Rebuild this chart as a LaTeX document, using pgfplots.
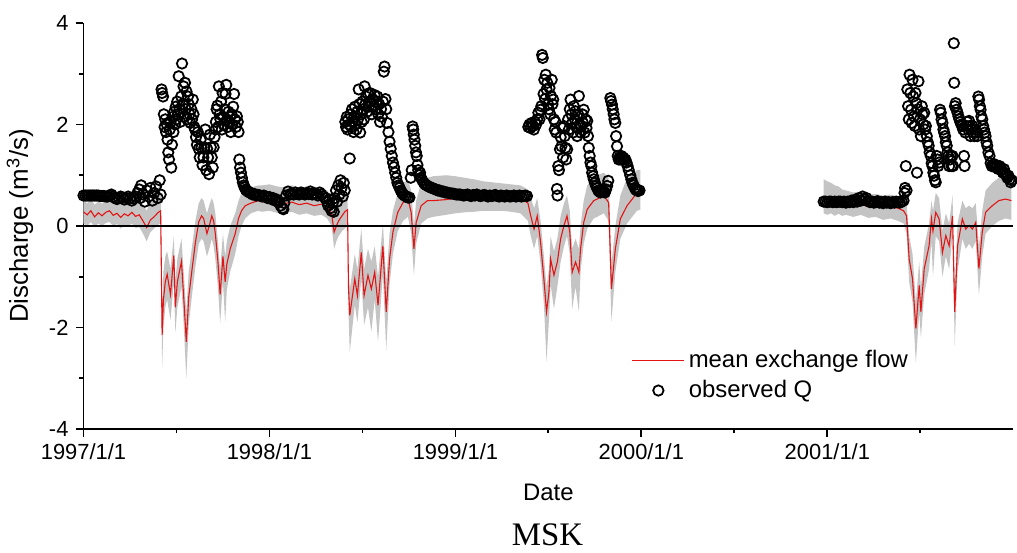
\documentclass[border=0pt]{standalone}
\usepackage{fontspec}
\setmainfont{Liberation Sans}
\newfontfamily\mskfont{Liberation Serif}
\usepackage{pgfplots}
\usepackage{pgfplotstable}
\usepgfplotslibrary{fillbetween}
\pgfplotsset{compat=1.18}
\definecolor{bandgray}{RGB}{196,196,196}
\definecolor{flowred}{RGB}{228,20,20}
\pgfplotsset{
  flowlegend/.style={legend image code/.code={\draw[##1] (0pt,0pt) -- (26pt,0pt);}},
  obslegend/.style={legend image code/.code={\draw[##1] plot coordinates {(13pt,0pt)};}},
}

% exchange flow 1997-1999: lower bound, mean, upper bound
\pgfplotstableread{
x lo mean hi
1997.000 0.05 0.28 0.50
1997.020 0.00 0.22 0.45
1997.040 0.08 0.30 0.52
1997.060 -0.02 0.18 0.42
1997.080 0.05 0.26 0.48
1997.100 0.00 0.20 0.44
1997.120 0.06 0.27 0.50
1997.140 0.08 0.30 0.52
1997.160 0.00 0.21 0.45
1997.180 0.04 0.25 0.48
1997.200 -0.05 0.17 0.42
1997.220 0.02 0.24 0.48
1997.240 -0.02 0.20 0.45
1997.260 0.05 0.27 0.52
1997.280 -0.04 0.19 0.45
1997.300 -0.02 0.22 0.50
1997.320 -0.15 0.10 0.42
1997.340 -0.30 -0.03 0.30
1997.360 -0.12 0.12 0.48
1997.380 -0.05 0.18 0.60
1997.400 0.02 0.26 0.75
1997.415 0.05 0.30 0.80
1997.423 -2.80 -2.15 -1.60
1997.430 -2.00 -1.45 -0.90
1997.440 -1.60 -1.10 -0.60
1997.450 -1.45 -0.95 -0.50
1997.468 -1.85 -1.35 -0.85
1997.486 -1.10 -0.58 -0.20
1997.494 -2.10 -1.60 -1.10
1997.505 -1.60 -1.10 -0.65
1997.513 -1.45 -0.95 -0.50
1997.527 -1.20 -0.70 -0.25
1997.539 -1.95 -1.40 -0.90
1997.553 -3.00 -2.28 -1.70
1997.566 -1.95 -1.40 -0.90
1997.584 -1.35 -0.85 -0.40
1997.602 -0.80 -0.32 0.10
1997.620 -0.35 0.08 0.45
1997.635 -0.25 0.20 0.55
1997.646 -0.30 0.15 0.50
1997.664 -0.60 -0.15 0.25
1997.680 -0.40 0.05 0.45
1997.690 -0.25 0.20 0.55
1997.700 -0.40 0.10 0.45
1997.709 -0.65 -0.15 0.25
1997.723 -1.20 -0.70 -0.30
1997.735 -1.92 -1.35 -0.85
1997.750 -1.10 -0.60 -0.15
1997.762 -1.89 -1.10 -0.60
1997.771 -1.25 -0.75 -0.30
1997.789 -0.90 -0.45 0.00
1997.816 -0.55 -0.15 0.25
1997.834 -0.20 0.15 0.50
1997.850 0.00 0.30 0.65
1997.870 0.15 0.40 0.72
1997.900 0.25 0.45 0.76
1997.940 0.30 0.50 0.80
1997.960 0.28 0.48 0.80
1998.000 0.30 0.50 0.82
1998.040 0.26 0.46 0.78
1998.080 0.25 0.44 0.76
1998.120 0.28 0.47 0.80
1998.160 0.22 0.42 0.75
1998.200 0.25 0.45 0.78
1998.240 0.20 0.40 0.74
1998.280 0.22 0.43 0.76
1998.310 0.15 0.38 0.70
1998.334 0.00 0.25 0.60
1998.348 -0.45 -0.12 0.25
1998.360 -0.30 0.00 0.35
1998.372 -0.20 0.10 0.45
1998.390 -0.10 0.20 0.55
1998.405 -0.05 0.28 0.62
1998.420 0.00 0.32 0.65
1998.425 -1.70 -1.20 -0.75
1998.432 -2.48 -1.76 -1.25
1998.459 -1.55 -1.04 -0.55
1998.473 -1.90 -1.37 -0.85
1998.494 -1.05 -0.52 -0.05
1998.509 -1.95 -1.37 -0.85
1998.530 -1.60 -0.97 -0.45
1998.548 -2.08 -1.24 -0.70
1998.566 -1.45 -0.91 -0.40
1998.584 -2.28 -1.56 -1.00
1998.610 -0.95 -0.39 0.05
1998.628 -2.45 -1.69 -1.10
1998.646 -1.15 -0.65 -0.15
1998.664 -0.55 -0.12 0.30
1998.690 -0.10 0.27 0.65
1998.718 0.10 0.46 0.85
1998.745 0.18 0.53 0.90
1998.762 -0.15 0.27 0.70
1998.777 -0.97 -0.45 0.00
1998.789 -0.35 0.07 0.50
1998.816 0.05 0.40 0.85
1998.850 0.15 0.50 0.95
1998.880 0.18 0.50 0.98
1998.950 0.22 0.52 1.00
1999.000 0.25 0.55 0.98
1999.050 0.27 0.56 0.95
1999.100 0.28 0.57 0.92
1999.150 0.30 0.57 0.88
1999.200 0.30 0.58 0.86
1999.250 0.30 0.58 0.84
1999.300 0.28 0.58 0.82
1999.350 0.25 0.56 0.80
1999.390 0.10 0.45 0.72
1999.405 -0.20 0.20 0.55
1999.423 -0.45 -0.06 0.35
1999.440 -0.20 0.20 0.55
1999.458 -0.75 -0.32 0.10
1999.476 -1.55 -1.05 -0.60
1999.490 -2.67 -1.69 -1.20
1999.503 -1.85 -1.30 -0.85
1999.512 -1.15 -0.65 -0.20
1999.530 -1.63 -0.97 -0.50
1999.548 -1.20 -0.71 -0.25
1999.566 -0.70 -0.25 0.20
1999.584 -0.40 0.01 0.45
1999.600 -0.20 0.20 0.60
1999.615 -0.55 -0.12 0.30
1999.628 -1.63 -0.91 -0.45
1999.646 -1.20 -0.71 -0.25
1999.664 -1.69 -0.91 -0.45
1999.673 -0.90 -0.45 0.00
1999.690 -0.35 0.07 0.50
1999.709 -0.05 0.33 0.80
1999.744 0.15 0.50 0.95
1999.762 0.18 0.53 1.00
1999.798 0.25 0.60 1.05
1999.824 0.10 0.46 0.95
1999.839 -1.89 -1.24 -0.75
1999.860 -0.90 -0.45 0.00
1999.887 -0.25 0.14 0.60
1999.923 0.05 0.40 0.95
1999.976 0.30 0.65 1.10
1999.995 0.32 0.66 1.10
}\bandA

% exchange flow 2001
\pgfplotstableread{
x lo mean hi
2000.980 0.25 0.45 0.92
2001.000 0.22 0.44 0.88
2001.020 0.25 0.45 0.85
2001.040 0.20 0.42 0.80
2001.060 0.24 0.46 0.78
2001.080 0.20 0.43 0.72
2001.100 0.22 0.42 0.70
2001.140 0.18 0.40 0.66
2001.180 0.22 0.43 0.68
2001.220 0.16 0.38 0.62
2001.260 0.18 0.40 0.63
2001.300 0.12 0.36 0.60
2001.340 0.15 0.38 0.62
2001.380 0.10 0.35 0.58
2001.410 0.05 0.30 0.55
2001.426 -0.15 0.20 0.45
2001.440 -1.10 -0.65 -0.20
2001.458 -1.50 -1.04 -0.55
2001.476 -2.70 -2.02 -1.50
2001.494 -1.70 -1.17 -0.70
2001.503 -2.20 -1.69 -1.20
2001.521 -1.35 -0.84 -0.40
2001.547 -0.85 -0.39 0.05
2001.560 -0.30 0.14 0.50
2001.568 -1.00 -0.10 0.30
2001.583 -0.20 0.27 0.65
2001.601 -0.30 0.14 0.55
2001.619 -1.00 -0.52 -0.10
2001.637 -0.60 -0.19 0.25
2001.655 -0.85 -0.39 0.05
2001.673 -0.20 0.20 0.60
2001.685 -2.35 -1.69 -1.20
2001.700 -0.90 -0.39 0.05
2001.726 -0.25 0.14 0.50
2001.744 -0.45 -0.06 0.35
2001.762 -0.35 0.01 0.40
2001.780 -0.45 -0.06 0.35
2001.798 -0.30 0.07 0.45
2001.815 -1.36 -0.84 -0.40
2001.833 -0.60 -0.12 0.30
2001.851 -0.15 0.27 0.70
2001.887 0.00 0.40 0.85
2001.922 0.10 0.50 0.95
2001.958 0.15 0.53 1.00
2001.990 0.12 0.50 1.00
}\bandB

% observed discharge
\pgfplotstableread{
x q
1997.00 0.60
1997.01 0.60
1997.02 0.60
1997.03 0.60
1997.04 0.60
1997.05 0.60
1997.06 0.60
1997.07 0.60
1997.08 0.60
1997.09 0.59
1997.10 0.59
1997.11 0.59
1997.12 0.58
1997.13 0.58
1997.14 0.60
1997.15 0.62
1997.16 0.58
1997.17 0.55
1997.18 0.53
1997.19 0.55
1997.20 0.58
1997.21 0.56
1997.22 0.52
1997.23 0.55
1997.24 0.58
1997.25 0.55
1997.26 0.50
1997.27 0.54
1997.28 0.58
1997.29 0.65
1997.30 0.72
1997.305 0.55
1997.31 0.80
1997.32 0.62
1997.33 0.48
1997.34 0.70
1997.35 0.58
1997.36 0.75
1997.37 0.50
1997.38 0.65
1997.39 0.78
1997.40 0.55
1997.41 0.90
1997.415 0.62
1997.420 2.69
1997.423 2.62
1997.428 2.55
1997.432 2.20
1997.436 1.95
1997.440 2.10
1997.444 1.85
1997.448 2.00
1997.452 1.70
1997.456 1.45
1997.460 1.31
1997.464 1.90
1997.468 2.05
1997.472 1.15
1997.476 1.60
1997.480 2.15
1997.484 1.85
1997.488 2.25
1997.492 2.00
1997.496 2.35
1997.500 2.10
1997.504 2.45
1997.508 2.20
1997.512 2.95
1997.516 2.30
1997.520 2.05
1997.525 2.55
1997.530 3.20
1997.534 2.40
1997.538 2.75
1997.542 2.15
1997.546 2.82
1997.550 2.30
1997.554 2.65
1997.558 2.10
1997.562 2.55
1997.566 2.40
1997.570 2.20
1997.575 2.03
1997.580 2.30
1997.584 2.10
1997.588 2.49
1997.592 2.20
1997.596 1.95
1997.600 1.90
1997.605 1.75
1997.610 1.60
1997.615 1.85
1997.620 1.52
1997.625 1.35
1997.630 1.70
1997.635 1.55
1997.640 1.20
1997.645 1.35
1997.650 1.55
1997.655 1.90
1997.660 1.10
1997.665 1.52
1997.670 1.35
1997.675 1.02
1997.680 1.80
1997.685 1.55
1997.690 1.35
1997.695 1.15
1997.700 1.55
1997.705 1.75
1997.710 1.90
1997.712 2.05
1997.716 2.30
1997.720 2.37
1997.724 1.95
1997.728 2.75
1997.732 2.20
1997.736 2.10
1997.740 2.45
1997.744 1.90
1997.748 2.62
1997.752 2.15
1997.756 2.00
1997.760 2.30
1997.764 2.60
1997.768 2.78
1997.772 2.10
1997.776 1.95
1997.780 2.25
1997.784 2.05
1997.788 2.15
1997.792 1.85
1997.796 2.20
1997.800 2.00
1997.805 2.35
1997.810 2.60
1997.815 2.10
1997.820 1.95
1997.825 2.16
1997.830 2.05
1997.834 1.85
1997.838 1.31
1997.842 1.15
1997.847 1.05
1997.852 0.95
1997.857 0.86
1997.862 0.80
1997.867 0.76
1997.872 0.72
1997.878 0.70
1997.885 0.68
1997.892 0.66
1997.900 0.65
1997.910 0.62
1997.920 0.63
1997.930 0.60
1997.940 0.61
1997.950 0.60
1997.960 0.58
1997.970 0.60
1997.980 0.58
1997.990 0.55
1998.000 0.57
1998.010 0.53
1998.020 0.55
1998.030 0.50
1998.040 0.52
1998.050 0.47
1998.060 0.40
1998.070 0.35
1998.075 0.33
1998.080 0.45
1998.090 0.60
1998.100 0.68
1998.11 0.62
1998.12 0.64
1998.13 0.62
1998.14 0.66
1998.15 0.63
1998.16 0.62
1998.17 0.66
1998.18 0.64
1998.19 0.62
1998.20 0.65
1998.21 0.63
1998.22 0.68
1998.23 0.62
1998.24 0.65
1998.25 0.63
1998.26 0.60
1998.27 0.66
1998.28 0.62
1998.29 0.58
1998.30 0.55
1998.31 0.48
1998.316 0.40
1998.322 0.52
1998.328 0.35
1998.334 0.30
1998.340 0.45
1998.346 0.28
1998.352 0.55
1998.358 0.70
1998.364 0.48
1998.370 0.80
1998.376 0.62
1998.382 0.90
1998.388 0.75
1998.394 0.58
1998.400 0.85
1998.405 0.70
1998.408 2.05
1998.412 1.95
1998.416 2.15
1998.420 1.90
1998.424 2.10
1998.428 2.00
1998.432 1.33
1998.436 2.20
1998.440 1.95
1998.444 2.30
1998.448 2.05
1998.452 1.85
1998.456 2.15
1998.460 2.35
1998.464 2.00
1998.468 1.90
1998.472 2.25
1998.476 2.10
1998.480 2.69
1998.484 2.40
1998.488 1.84
1998.492 2.20
1998.496 2.05
1998.500 2.45
1998.504 2.30
1998.508 2.10
1998.512 2.75
1998.516 2.40
1998.520 2.55
1998.525 2.25
1998.530 2.60
1998.535 2.35
1998.540 2.62
1998.545 2.45
1998.550 2.20
1998.555 2.50
1998.560 2.35
1998.565 2.58
1998.570 2.30
1998.575 2.45
1998.580 2.55
1998.585 2.20
1998.590 2.40
1998.595 2.05
1998.600 2.30
1998.605 2.15
1998.610 2.45
1998.615 3.04
1998.619 3.14
1998.624 2.50
1998.628 2.30
1998.633 2.03
1998.640 1.85
1998.646 1.66
1998.652 1.52
1998.658 1.38
1998.664 1.25
1998.670 1.16
1998.676 1.05
1998.682 0.95
1998.688 0.85
1998.694 0.80
1998.700 0.75
1998.706 0.70
1998.712 0.66
1998.718 0.63
1998.726 0.60
1998.735 0.58
1998.745 0.56
1998.753 0.56
1998.760 0.95
1998.765 1.10
1998.770 1.96
1998.773 1.90
1998.776 1.80
1998.780 1.70
1998.784 1.58
1998.788 1.45
1998.792 1.38
1998.796 1.20
1998.800 1.10
1998.805 1.00
1998.810 1.05
1998.815 0.95
1998.822 0.90
1998.830 0.85
1998.838 0.82
1998.846 0.80
1998.855 0.78
1998.865 0.76
1998.875 0.75
1998.885 0.73
1998.895 0.72
1998.905 0.70
1998.915 0.70
1998.925 0.68
1998.935 0.68
1998.945 0.66
1998.955 0.66
1998.965 0.65
1998.975 0.64
1998.985 0.64
1998.995 0.63
1999.005 0.62
1999.015 0.62
1999.025 0.62
1999.035 0.61
1999.045 0.60
1999.055 0.61
1999.065 0.62
1999.075 0.60
1999.085 0.59
1999.095 0.61
1999.105 0.60
1999.115 0.62
1999.125 0.60
1999.135 0.59
1999.145 0.60
1999.155 0.61
1999.165 0.60
1999.175 0.58
1999.185 0.60
1999.195 0.59
1999.205 0.60
1999.215 0.61
1999.225 0.59
1999.235 0.58
1999.245 0.60
1999.255 0.59
1999.265 0.58
1999.275 0.60
1999.285 0.59
1999.295 0.58
1999.305 0.59
1999.315 0.60
1999.325 0.58
1999.335 0.59
1999.345 0.60
1999.355 0.58
1999.365 0.59
1999.375 0.60
1999.385 0.59
1999.392 1.95
1999.398 2.00
1999.404 1.93
1999.410 2.03
1999.416 1.97
1999.422 1.90
1999.428 2.05
1999.434 2.00
1999.440 2.10
1999.446 2.23
1999.452 2.10
1999.458 2.29
1999.462 2.36
1999.466 3.37
1999.470 3.31
1999.474 2.60
1999.478 2.88
1999.482 2.50
1999.486 2.98
1999.490 2.69
1999.494 2.82
1999.498 2.40
1999.502 2.30
1999.506 2.72
1999.510 2.20
1999.514 2.56
1999.518 2.88
1999.522 2.40
1999.526 2.49
1999.530 2.10
1999.534 1.90
1999.538 2.05
1999.542 1.84
1999.546 0.73
1999.549 0.60
1999.553 1.18
1999.557 1.10
1999.562 1.51
1999.566 1.75
1999.570 1.57
1999.575 1.93
1999.579 1.35
1999.583 1.97
1999.588 1.77
1999.592 1.54
1999.596 1.31
1999.601 1.51
1999.606 2.10
1999.610 1.90
1999.615 2.30
1999.619 2.49
1999.624 2.20
1999.628 2.03
1999.633 1.84
1999.637 2.36
1999.642 2.10
1999.646 2.26
1999.650 1.95
1999.655 1.77
1999.660 2.20
1999.664 2.56
1999.668 2.00
1999.673 1.84
1999.678 1.97
1999.682 2.20
1999.686 2.03
1999.690 2.29
1999.695 1.84
1999.700 2.10
1999.705 1.93
1999.709 2.07
1999.713 1.77
1999.717 1.54
1999.722 1.38
1999.726 1.25
1999.731 1.18
1999.735 1.05
1999.740 0.98
1999.744 0.92
1999.750 0.85
1999.756 0.79
1999.762 0.75
1999.768 0.70
1999.774 0.68
1999.780 0.66
1999.786 0.68
1999.792 0.70
1999.798 0.68
1999.804 0.66
1999.810 0.72
1999.816 0.79
1999.822 0.89
1999.833 2.52
1999.837 2.46
1999.842 2.39
1999.846 2.30
1999.851 2.20
1999.855 2.10
1999.860 2.03
1999.864 1.77
1999.869 1.57
1999.873 1.38
1999.878 1.31
1999.882 1.35
1999.887 1.31
1999.892 1.38
1999.897 1.31
1999.902 1.35
1999.907 1.31
1999.914 1.31
1999.920 1.25
1999.926 1.18
1999.932 1.10
1999.940 1.00
1999.946 0.92
1999.952 0.85
1999.958 0.80
1999.964 0.75
1999.970 0.72
1999.976 0.70
1999.982 0.69
1999.990 0.70
2000.98 0.48
2000.99 0.48
2001.00 0.47
2001.01 0.48
2001.02 0.48
2001.03 0.47
2001.04 0.48
2001.05 0.47
2001.06 0.48
2001.07 0.48
2001.08 0.47
2001.09 0.48
2001.10 0.46
2001.11 0.48
2001.12 0.47
2001.13 0.50
2001.14 0.47
2001.15 0.52
2001.16 0.48
2001.17 0.55
2001.18 0.50
2001.19 0.58
2001.20 0.52
2001.21 0.55
2001.22 0.49
2001.23 0.47
2001.24 0.48
2001.25 0.46
2001.26 0.47
2001.27 0.49
2001.28 0.46
2001.29 0.47
2001.30 0.45
2001.31 0.48
2001.32 0.46
2001.33 0.47
2001.34 0.45
2001.35 0.47
2001.36 0.46
2001.37 0.48
2001.38 0.47
2001.39 0.46
2001.40 0.48
2001.41 0.50
2001.415 0.65
2001.418 0.75
2001.422 1.18
2001.426 0.70
2001.430 2.69
2001.434 2.36
2001.438 2.10
2001.442 2.98
2001.446 2.62
2001.450 2.29
2001.454 2.03
2001.458 2.88
2001.462 2.55
2001.466 2.16
2001.470 1.97
2001.474 2.62
2001.478 2.42
2001.482 1.05
2001.486 2.30
2001.490 2.85
2001.494 1.90
2001.498 2.10
2001.503 1.77
2001.508 2.36
2001.512 2.20
2001.516 2.00
2001.521 2.23
2001.526 1.90
2001.530 1.97
2001.535 1.77
2001.540 1.65
2001.545 1.58
2001.550 1.45
2001.556 1.38
2001.561 1.24
2001.565 1.18
2001.570 1.05
2001.574 0.99
2001.579 0.90
2001.583 0.86
2001.588 1.38
2001.592 1.31
2001.596 1.18
2001.601 1.25
2001.606 2.29
2001.610 2.23
2001.614 2.10
2001.619 2.03
2001.624 1.90
2001.628 1.84
2001.633 1.77
2001.637 1.65
2001.642 1.58
2001.646 1.45
2001.650 1.38
2001.655 1.18
2001.660 1.31
2001.664 1.38
2001.668 1.18
2001.673 1.38
2001.676 1.18
2001.680 3.60
2001.682 2.82
2001.686 2.36
2001.690 2.42
2001.695 2.29
2001.700 2.23
2001.705 2.16
2001.710 2.10
2001.715 2.05
2001.720 2.00
2001.726 1.97
2001.730 1.90
2001.735 1.38
2001.738 1.18
2001.742 1.84
2001.748 1.97
2001.752 2.05
2001.758 1.90
2001.762 2.07
2001.766 1.97
2001.770 1.77
2001.775 1.90
2001.780 1.97
2001.785 1.84
2001.790 1.77
2001.795 1.90
2001.800 1.84
2001.806 1.77
2001.812 2.55
2001.816 2.49
2001.820 2.36
2001.824 2.29
2001.828 2.16
2001.833 2.10
2001.838 1.97
2001.842 1.90
2001.846 1.84
2001.851 1.77
2001.856 1.65
2001.860 1.58
2001.866 1.45
2001.872 1.38
2001.878 1.24
2001.884 1.18
2001.890 1.18
2001.896 1.22
2001.902 1.18
2001.908 1.15
2001.914 1.18
2001.920 1.12
2001.926 1.18
2001.932 1.15
2001.938 1.10
2001.944 1.05
2001.950 1.12
2001.956 1.05
2001.962 1.00
2001.968 0.95
2001.974 0.99
2001.980 0.92
2001.986 0.86
2001.992 0.90
}\obsQ

\begin{document}
\begin{tikzpicture}
\begin{axis}[
  scale only axis,
  width=467pt, height=204pt,
  xmin=1997, xmax=2002, ymin=-4, ymax=4,
  axis lines=left,
  axis line style={-, line width=0.9pt},
  xtick={1997,1998,1999,2000,2001},
  xticklabels={1997/1/1,1998/1/1,1999/1/1,2000/1/1,2001/1/1},
  minor xtick={1997.5,1998.5,1999.5,2000.5,2001.5},
  ytick={-4,-2,0,2,4},
  yticklabels={-4,-2,0,2,4},
  minor ytick={-3,-1,1,3},
  tick align=outside,
  major tick length=4pt, minor tick length=2pt,
  every tick/.style={black, line width=0.9pt},
  tick label style={font=\fontsize{11}{13}\selectfont},
  xlabel={Date},
  ylabel={Discharge (m\textsuperscript{3}/s)},
  xlabel style={font=\fontsize{12}{14}\selectfont, yshift=-5pt},
  ylabel style={font=\fontsize{13}{15}\selectfont, yshift=1pt},
  legend cell align=left,
  legend style={at={(0.583,0.215)}, anchor=north west, draw=none, fill=none,
    font=\fontsize{12}{14}\selectfont, row sep=1pt},
]
% spread of the exchange flow
\addplot[draw=none, name path=hiA, forget plot] table[x=x, y=hi]{\bandA};
\addplot[draw=none, name path=loA, forget plot] table[x=x, y=lo]{\bandA};
\addplot[fill=bandgray, draw=none, forget plot] fill between[of=hiA and loA];
\addplot[draw=none, name path=hiB, forget plot] table[x=x, y=hi]{\bandB};
\addplot[draw=none, name path=loB, forget plot] table[x=x, y=lo]{\bandB};
\addplot[fill=bandgray, draw=none, forget plot] fill between[of=hiB and loB];

\addplot[flowred, line width=0.55pt, flowlegend] table[x=x, y=mean]{\bandA};
\addlegendentry{mean exchange flow}
\addplot[flowred, line width=0.55pt, forget plot] table[x=x, y=mean]{\bandB};

\addplot[black, line width=1pt, forget plot] coordinates {(1997,0) (2002,0)};

\addplot[only marks, mark=o, mark size=2.6pt,
  mark options={black, line width=0.9pt}, obslegend]
  table[x=x, y=q]{\obsQ};
\addlegendentry{observed Q}
\end{axis}
\node[font=\mskfont\fontsize{16.5}{19}\selectfont] at (233pt,-53pt) {MSK};
\path (-40.5pt,-60.5pt) rectangle (468pt,215.5pt);
\end{tikzpicture}
\end{document}
